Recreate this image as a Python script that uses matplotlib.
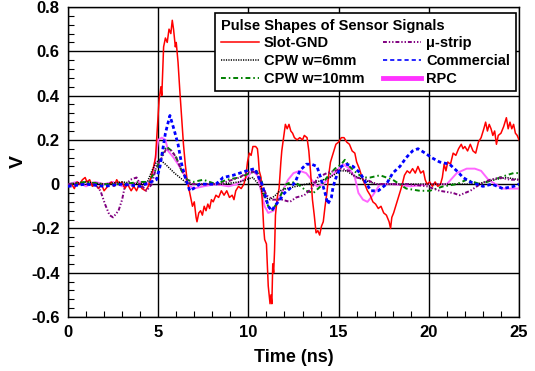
import matplotlib
matplotlib.use("Agg")
import matplotlib.pyplot as plt
from matplotlib.ticker import MultipleLocator
from matplotlib.lines import Line2D

plt.rcParams['font.family'] = ['Liberation Sans', 'DejaVu Sans']
plt.rcParams['font.weight'] = 'bold'

# ---- data (time in ns, signal in V) ----
slot_t = [0.0,0.2,0.35,0.5,0.65,0.8,0.95,1.05,1.2,1.35,1.5,1.7,1.85,2.0,2.2,2.4,2.55,2.7,2.85,3.0,
          3.15,3.3,3.5,3.65,3.8,3.95,4.1,4.3,4.45,4.6,4.75,4.85,4.95,5.05,5.15,5.2,5.3,5.4,5.5,5.6,
          5.7,5.78,5.85,5.95,6.0,6.1,6.2,6.3,6.4,6.5,6.6,6.7,6.8,6.9,7.0,7.1,7.15,7.25,7.35,7.45,
          7.55,7.65,7.75,7.85,7.95,8.05,8.2,8.35,8.5,8.65,8.8,8.95,9.1,9.2,9.3,9.45,9.6,9.75,9.85,9.95,
          10.05,10.15,10.25,10.4,10.5,10.55,10.6,10.7,10.75,10.8,10.85,10.9,11.0,11.05,11.1,11.15,11.2,11.25,11.3,11.35,
          11.4,11.45,11.5,11.6,11.7,11.8,11.85,11.95,12.05,12.15,12.25,12.35,12.45,12.55,12.7,12.85,13.0,13.1,13.25,13.35,
          13.45,13.55,13.65,13.75,13.85,13.95,14.05,14.15,14.25,14.35,14.45,14.55,14.7,14.85,15.0,15.15,15.3,15.45,15.6,15.75,
          15.9,16.0,16.15,16.3,16.45,16.6,16.75,16.9,17.05,17.2,17.35,17.5,17.65,17.8,17.88,17.95,18.05,18.2,18.35,18.5,
          18.65,18.8,18.95,19.1,19.25,19.4,19.55,19.7,19.8,19.9,20.05,20.2,20.35,20.5,20.65,20.75,20.85,20.95,21.05,21.2,
          21.35,21.5,21.65,21.8,21.9,22.0,22.15,22.3,22.45,22.6,22.75,22.9,23.05,23.15,23.25,23.35,23.45,23.55,23.65,23.75,
          23.85,24.0,24.15,24.3,24.4,24.5,24.6,24.7,24.8,24.9,25.0]
slot_v = [-0.01,0.0,-0.02,0.01,0.0,0.02,0.03,0.01,0.02,-0.01,0.0,-0.02,0.0,-0.03,-0.01,0.01,-0.01,0.02,0.0,0.01,
          -0.02,0.0,-0.03,-0.01,-0.03,0.0,-0.02,-0.03,-0.01,0.03,0.08,0.12,0.25,0.38,0.44,0.40,0.62,0.66,0.64,0.70,
          0.68,0.74,0.70,0.62,0.64,0.55,0.42,0.30,0.18,0.09,0.02,-0.02,-0.06,-0.10,-0.08,-0.15,-0.17,-0.13,-0.12,-0.14,
          -0.10,-0.12,-0.09,-0.11,-0.07,-0.08,-0.05,-0.06,-0.03,-0.05,-0.03,-0.06,-0.05,-0.07,-0.03,-0.01,-0.02,0.0,0.03,0.10,
          0.14,0.13,0.17,0.17,0.16,0.12,0.06,0.03,-0.05,-0.12,-0.20,-0.25,-0.27,-0.36,-0.46,-0.50,-0.54,-0.50,-0.54,-0.36,
          -0.40,-0.30,-0.14,-0.06,-0.02,0.10,0.15,0.21,0.27,0.25,0.27,0.24,0.23,0.21,0.20,0.21,0.20,0.22,0.21,0.15,
          0.05,-0.07,-0.14,-0.22,-0.21,-0.23,-0.19,-0.17,-0.10,-0.04,0.04,0.10,0.14,0.18,0.19,0.21,0.21,0.19,0.18,0.15,
          0.14,0.10,0.07,0.03,0.00,-0.03,-0.05,-0.08,-0.09,-0.11,-0.10,-0.13,-0.14,-0.17,-0.20,-0.15,-0.13,-0.09,-0.05,-0.01,
          0.04,0.06,0.05,0.07,0.05,0.08,0.05,0.06,0.02,0.0,0.01,-0.01,0.01,-0.01,0.0,0.03,0.09,0.06,0.10,0.09,
          0.14,0.13,0.16,0.18,0.16,0.17,0.15,0.18,0.15,0.14,0.19,0.21,0.25,0.28,0.24,0.27,0.25,0.22,0.24,0.18,
          0.22,0.23,0.26,0.30,0.25,0.28,0.25,0.27,0.23,0.22,0.20]

cpw6_t = [0.0,1.0,2.0,3.0,4.0,4.4,4.65,4.9,5.1,5.4,5.65,5.9,6.2,6.5,6.8,7.5,8.5,9.5,10.25,10.65,
          10.9,11.2,11.5,11.75,12.1,12.65,13.2,13.8,14.5,15.1,15.45,15.8,16.35,17.1,18.0,19.0,20.0,21.0,22.0,22.65,
          23.6,24.3,25.0]
cpw6_v = [0.0,0.01,0.0,0.01,0.0,0.01,0.06,0.10,0.11,0.09,0.07,0.05,0.03,0.01,0.0,0.0,0.0,0.01,0.03,-0.01,
          -0.06,-0.07,-0.05,-0.03,-0.02,-0.01,0.0,0.01,0.03,0.06,0.06,0.04,0.02,0.0,0.0,0.0,0.0,0.0,0.0,0.0,
          0.02,0.03,0.02]

cpw10_t = [0.0,1.0,2.0,3.0,4.0,4.5,4.9,5.2,5.45,5.75,6.0,6.3,6.6,6.95,7.5,8.2,8.8,9.5,10.1,10.45,
           10.75,10.9,11.1,11.3,11.55,11.85,12.1,12.4,12.75,13.2,13.6,14.0,14.35,14.8,15.15,15.35,15.6,16.0,16.35,16.75,
           17.3,18.0,18.75,19.5,20.05,20.8,21.55,22.1,22.85,23.6,24.3,24.7,25.0]
cpw10_v = [0.0,0.01,0.0,0.0,0.01,0.01,0.07,0.13,0.17,0.15,0.12,0.06,0.02,0.01,0.02,0.0,0.02,0.03,0.05,0.06,
           0.01,-0.06,-0.10,-0.12,-0.09,-0.04,0.0,0.01,0.0,-0.03,-0.04,-0.01,0.03,0.07,0.09,0.11,0.08,0.05,0.03,0.03,
           0.04,0.02,-0.02,-0.03,-0.03,-0.01,0.0,0.02,0.0,0.02,0.04,0.05,0.05]

ustrip_t = [0.0,0.8,1.5,1.8,2.05,2.3,2.5,2.8,3.0,3.15,3.45,3.8,4.0,4.35,4.65,4.9,5.2,5.45,5.75,6.0,
            6.3,6.6,6.85,7.5,8.4,9.5,10.1,10.45,10.75,11.0,11.35,11.85,12.3,12.65,13.1,13.5,13.85,14.35,14.8,15.15,
            15.6,16.0,16.55,17.1,17.9,18.85,19.9,20.6,21.35,21.7,22.3,22.85,23.4,23.95,24.5,25.0]
ustrip_v = [0.0,0.0,0.0,-0.03,-0.09,-0.14,-0.15,-0.12,-0.07,-0.01,0.02,0.03,0.0,-0.03,0.0,0.08,0.12,0.16,0.15,0.12,
            0.06,0.02,0.0,0.0,0.0,0.03,0.06,0.05,0.0,-0.05,-0.07,-0.07,-0.08,-0.06,-0.05,-0.02,0.03,0.05,0.06,0.07,
            0.06,0.03,0.02,0.0,0.0,0.0,-0.01,-0.03,-0.04,-0.05,-0.03,0.0,0.02,0.03,0.02,0.02]

comm_t = [0.0,1.0,2.0,3.0,4.0,4.9,5.1,5.4,5.65,5.9,6.1,6.3,6.5,6.75,6.95,7.3,8.2,8.6,9.15,9.9,
          10.35,10.75,10.9,11.1,11.3,11.45,11.75,12.0,12.3,12.6,12.85,13.2,13.5,13.8,14.0,14.25,14.4,14.6,14.7,14.9,
          15.15,15.45,15.8,16.2,16.55,16.8,17.2,17.65,18.0,18.4,18.75,19.1,19.4,19.8,20.15,20.6,21.15,21.55,21.9,22.3,
          22.65,23.0,23.5,24.1,24.7,25.0]
comm_v = [-0.01,0.0,-0.01,0.0,-0.01,0.02,0.08,0.23,0.31,0.24,0.18,0.09,0.03,-0.03,-0.02,0.0,0.0,0.03,0.04,0.06,
          0.07,0.0,-0.04,-0.10,-0.12,-0.10,-0.07,-0.04,-0.02,0.01,0.06,0.09,0.09,0.08,0.03,-0.04,-0.09,-0.06,-0.01,0.04,
          0.08,0.09,0.08,0.05,0.0,-0.03,-0.03,0.0,0.05,0.08,0.12,0.15,0.16,0.14,0.12,0.10,0.09,0.06,0.03,0.01,
          0.0,-0.01,0.0,-0.02,-0.01,0.0]

rpc_t = [0.0,0.5,1.0,1.5,2.0,2.5,3.0,3.5,4.0,4.4,4.65,4.8,5.0,5.2,5.4,5.55,5.85,6.1,6.4,6.65,
         6.95,7.5,8.2,8.9,9.35,9.9,10.25,10.5,10.7,10.9,11.1,11.4,11.65,11.9,12.2,12.5,12.85,13.2,13.5,13.8,
         14.15,14.5,14.9,15.25,15.6,15.9,16.1,16.35,16.6,16.9,17.3,18.0,19.0,20.0,21.0,21.55,22.1,22.55,22.9,23.3,
         23.7,24.1,24.7,25.0]
rpc_v = [0.0,0.01,-0.01,0.01,0.0,0.01,-0.01,0.0,0.01,0.0,0.03,0.09,0.20,0.21,0.20,0.15,0.12,0.09,0.05,0.0,
         -0.02,-0.01,0.0,-0.01,0.0,0.03,0.06,0.04,-0.03,-0.10,-0.13,-0.12,-0.07,-0.03,0.02,0.05,0.06,0.05,0.02,-0.01,
         0.0,0.03,0.06,0.09,0.07,0.03,-0.04,-0.07,-0.08,-0.05,0.0,0.0,-0.01,0.0,0.0,0.05,0.07,0.07,0.06,0.02,
         0.0,-0.02,-0.02,-0.02]

x_ticks = [0, 5, 10, 15, 20, 25]
y_ticks = [-0.6, -0.4, -0.2, 0, 0.2, 0.4, 0.6, 0.8]
y_ticklabels = ['-0.6', '-0.4', '-0.2', '0', '0.2', '0.4', '0.6', '0.8']

styles = {
    'Slot-GND':   dict(color='#ff0000', lw=1.1, ls='-'),
    'CPW w=6mm':  dict(color='black', lw=1.1, ls=(0, (0.8, 0.8))),
    'CPW w=10mm': dict(color='#008000', lw=1.4, ls=(0, (2.5, 1.5, 0.8, 1.5))),
    '\u03bc-strip':  dict(color='#800080', lw=1.4, ls=(0, (2.0, 1.0, 0.7, 1.0, 0.7, 1.0))),
    'Commercial': dict(color='#0000ff', lw=2.0, ls=(0, (1.3, 1.0))),
    'RPC':        dict(color='#ff66ff', lw=1.4, ls='-'),
}

fig = plt.figure(figsize=(5.35, 3.71), dpi=100)
ax = fig.add_axes([68/535, 1-317/371, 451/535, 310/371])

ax.plot(rpc_t, rpc_v, zorder=2, **styles['RPC'])
ax.plot(slot_t, slot_v, zorder=3, **styles['Slot-GND'])
ax.plot(cpw6_t, cpw6_v, zorder=4, **styles['CPW w=6mm'])
ax.plot(cpw10_t, cpw10_v, zorder=4, **styles['CPW w=10mm'])
ax.plot(ustrip_t, ustrip_v, zorder=4, **styles['\u03bc-strip'])
ax.plot(comm_t, comm_v, zorder=5, **styles['Commercial'])

ax.set_xlim(0, 25)
ax.set_ylim(-0.6, 0.8)
ax.set_xticks(x_ticks)
ax.set_yticks(y_ticks)
ax.set_yticklabels(y_ticklabels)
ax.xaxis.set_minor_locator(MultipleLocator(1))
ax.yaxis.set_minor_locator(MultipleLocator(0.04))
ax.tick_params(which='both', direction='in', top=False, right=False, labelsize=12)
ax.tick_params(which='major', length=0, pad=6)
ax.tick_params(which='minor', length=4, width=0.8)
ax.grid(True, which='major', color='black', lw=1.0)
for s in ax.spines.values():
    s.set_linewidth(1.0)

ax.set_xlabel('Time (ns)', fontsize=13, fontweight='bold', labelpad=6)
ax.set_ylabel('V', fontsize=14, fontweight='bold', labelpad=3)

order = ['Slot-GND', 'CPW w=6mm', 'CPW w=10mm', '\u03bc-strip', 'Commercial', 'RPC']
leg_handles = []
for o in order:
    st = dict(styles[o])
    if o == 'RPC':
        st['lw'] = 3.5
        st['color'] = '#ff33ff'
    if o == 'Commercial':
        st['lw'] = 1.2
        st['ls'] = (0, (2.5, 1.8))
    leg_handles.append(Line2D([], [], **st))
leg = ax.legend(leg_handles, order, ncol=2, loc='upper right', bbox_to_anchor=(0.993, 0.981),
                title='Pulse Shapes of Sensor Signals', alignment='left',
                prop={'weight': 'bold', 'size': 10.5}, title_fontproperties={'weight': 'bold', 'size': 10.5},
                fancybox=False, framealpha=1, edgecolor='black', handlelength=2.6,
                handletextpad=0.35, columnspacing=1.3, labelspacing=0.25, borderpad=0.4, borderaxespad=0)
leg.get_frame().set_linewidth(1.2)
leg.set_zorder(10)

fig.savefig('out.png', dpi=100)
